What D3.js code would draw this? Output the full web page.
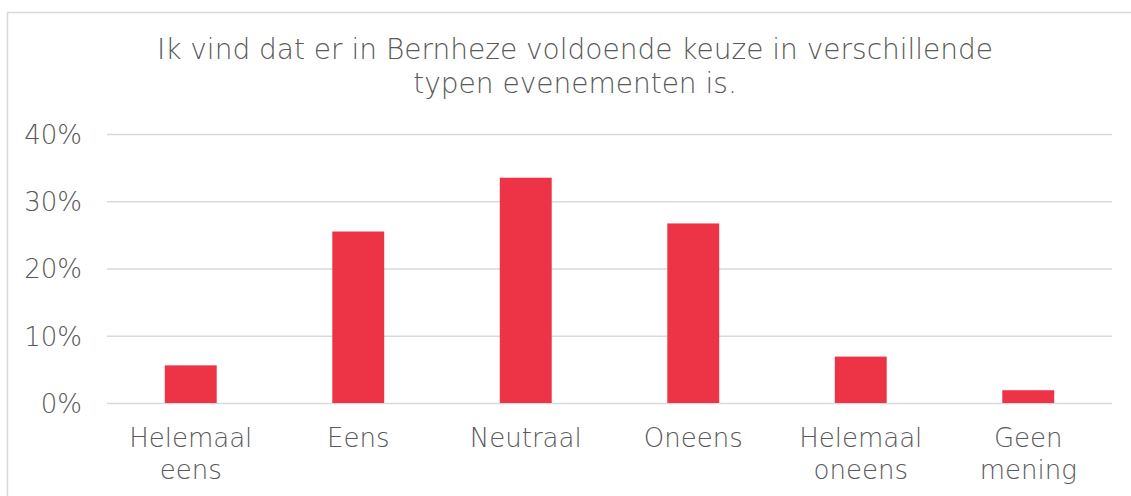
<!DOCTYPE html>
<html>
<head>
<meta charset="utf-8">
<script src="https://cdn.jsdelivr.net/npm/d3@7"></script>
<style>
  html, body { margin: 0; padding: 0; background: #fff; }
  svg { display: block; }
  svg text { font-family: 'DejaVu Sans', sans-serif; font-weight: 200; }
</style>
</head>
<body>
<svg class="chart"></svg>
<script>
const titleLines = ['Ik vind dat er in Bernheze voldoende keuze in verschillende', 'typen evenementen is.'];
const categories = [['Helemaal', 'eens'], ['Eens'], ['Neutraal'], ['Oneens'], ['Helemaal', 'oneens'], ['Geen', 'mening']];
const values = [0.056, 0.255, 0.335, 0.267, 0.069, 0.019];
const yTicks = [0, 0.1, 0.2, 0.3, 0.4];

const viewBox = { width: 1131, height: 496 };
const margin = { top: 134, left: 107, right: 19, bottom: 93 };
const width = viewBox.width - margin.left - margin.right;
const height = viewBox.height - margin.top - margin.bottom;
const colors = { bar: '#ed3446', grid: '#d9d9d9', text: '#595959' };

const svg = d3.select('.chart')
  .attr('width', viewBox.width)
  .attr('height', viewBox.height);

// outer frame of the chart area
svg.append('rect')
  .attr('x', 7.5).attr('y', 12.5)
  .attr('width', viewBox.width).attr('height', viewBox.height)
  .attr('fill', 'none')
  .attr('stroke', colors.grid)
  .attr('stroke-width', 1.5);

svg.append('text')
  .attr('x', 575)
  .attr('y', 59)
  .attr('text-anchor', 'middle')
  .attr('fill', colors.text)
  .style('font-size', '28px')
  .selectAll('tspan')
  .data(titleLines)
  .enter()
  .append('tspan')
  .attr('x', 575)
  .attr('dy', (d, i) => (i === 0 ? 0 : 34))
  .text(d => d);

const chart = svg.append('g')
  .attr('transform', `translate(${margin.left}, ${margin.top})`);

const xScale = d3.scaleBand()
  .domain(d3.range(categories.length))
  .range([0, width])
  .paddingInner(0.69)
  .paddingOuter(0.345);
const yScale = d3.scaleLinear().domain([0, 0.4]).range([height, 0]);

const yAxis = d3.axisLeft(yScale)
  .tickValues(yTicks)
  .tickSize(-width)
  .tickFormat(d3.format('.0%'));

chart.append('g')
  .call(yAxis)
  .attr('font-family', null)
  .call(g => g.select('.domain').remove())
  .call(g => g.selectAll('.tick line').attr('stroke', colors.grid).attr('stroke-width', 1.5))
  .call(g => g.selectAll('.tick text')
    .attr('x', -25)
    .attr('dy', '0.36em')
    .attr('fill', colors.text)
    .style('font-size', '26px'));

chart.selectAll('rect.bar')
  .data(values)
  .enter()
  .append('rect')
  .attr('class', 'bar')
  .attr('x', (d, i) => xScale(i))
  .attr('y', d => yScale(d))
  .attr('width', xScale.bandwidth())
  .attr('height', d => height - yScale(d))
  .attr('fill', colors.bar);

const xAxis = d3.axisBottom(xScale).tickSize(0).tickFormat('');
const xg = chart.append('g')
  .attr('transform', `translate(0, ${height})`)
  .call(xAxis)
  .attr('font-family', null)
  .call(g => g.select('.domain').remove());

xg.selectAll('.tick')
  .append('text')
  .attr('fill', colors.text)
  .attr('text-anchor', 'middle')
  .style('font-size', '26px')
  .selectAll('tspan')
  .data(i => categories[i])
  .enter()
  .append('tspan')
  .attr('x', 0)
  .attr('y', (d, j) => 44 + j * 32)
  .text(d => d);
</script>
</body>
</html>
